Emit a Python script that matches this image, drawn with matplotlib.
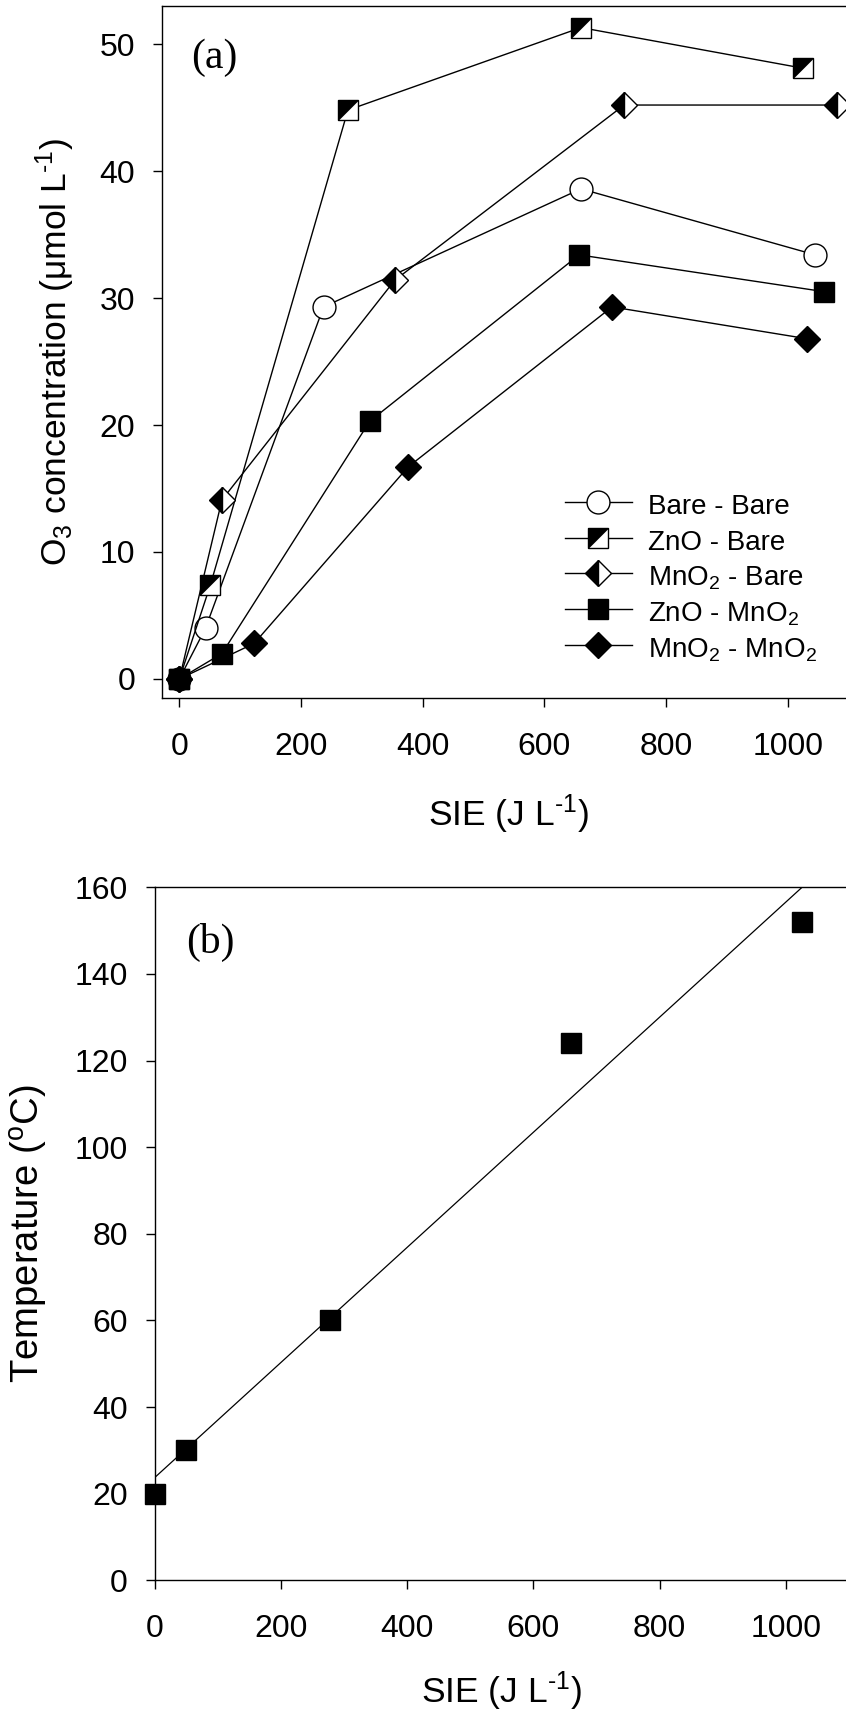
import numpy as np
import matplotlib
matplotlib.use("Agg")
import matplotlib.pyplot as plt
from matplotlib.legend_handler import HandlerTuple

plt.rcParams['font.family'] = ['Liberation Sans', 'DejaVu Sans']
plt.rcParams['mathtext.fontset'] = 'custom'
plt.rcParams['mathtext.rm'] = 'Liberation Sans'
plt.rcParams['mathtext.it'] = 'Liberation Sans:italic'
plt.rcParams['mathtext.bf'] = 'Liberation Sans:bold'

# ---------------- data (panel a) ----------------
bare_bare_x = [0, 43, 237, 660, 1045]
bare_bare_y = [0, 4.0, 29.3, 38.6, 33.4]
zno_bare_x = [0, 51, 277, 660, 1025]
zno_bare_y = [0, 7.4, 44.8, 51.3, 48.1]
mno2_bare_x = [0, 70, 354, 731, 1081]
mno2_bare_y = [0, 14.1, 31.4, 45.2, 45.2]
zno_mno2_x = [0, 70, 313, 657, 1060]
zno_mno2_y = [0, 2.0, 20.3, 33.4, 30.5]
mno2_mno2_x = [0, 123, 376, 711, 1031]
mno2_mno2_y = [0, 2.8, 16.7, 29.3, 26.8]
labels_a = ['Bare - Bare', 'ZnO - Bare', 'MnO$_2$ - Bare',
            'ZnO - MnO$_2$', 'MnO$_2$ - MnO$_2$']

# ---------------- data (panel b) ----------------
temp_x = [0, 50, 278, 660, 1025]
temp_y = [20, 30, 60, 124, 152]

x_ticks = [0, 200, 400, 600, 800, 1000]
ya_ticks = [0, 10, 20, 30, 40, 50]
yb_ticks = [0, 20, 40, 60, 80, 100, 120, 140, 160]

W, H = 846, 1717
fig = plt.figure(figsize=(W / 100, H / 100), dpi=100)

def axrect(l, r, t, b):
    return [l / W, 1 - b / H, (r - l) / W, (b - t) / H]

ax1 = fig.add_axes(axrect(161.7, 856, 6, 698))
ax2 = fig.add_axes(axrect(154.5, 849, 887.3, 1580.4))

TICK_FS = 23
lw = 1.0
mew = 1.0

common = dict(color='black', lw=lw, mec='black', mew=mew, clip_on=False)

h1, = ax1.plot(bare_bare_x, bare_bare_y, marker='o', ms=16.5, mfc='white', **common)
h2, = ax1.plot(zno_bare_x, zno_bare_y, marker='s', ms=14.5, mfc='white', **common)
tri = [(-1, -1), (-1, 1), (1, 1), (-1, -1)]
h2b, = ax1.plot(zno_bare_x, zno_bare_y, ls='none', marker=tri, ms=14.5,
                mfc='black', mec='black', mew=0.5, clip_on=False)
h3, = ax1.plot(mno2_bare_x, mno2_bare_y, marker='D', ms=13.7, mfc='black',
               fillstyle='left', markerfacecoloralt='white', **common)
h4, = ax1.plot(zno_mno2_x, zno_mno2_y, marker='s', ms=14.5, mfc='black', **common)
h5, = ax1.plot(mno2_mno2_x, mno2_mno2_y, marker='D', ms=13.7, mfc='black', **common)

ax1.set_xlim(-29, 1112)
ax1.set_ylim(-1.5, 53)
ax1.set_xticks(x_ticks)
ax1.set_yticks(ya_ticks)

leg_fs = 20
leg = ax1.legend([h1, (h2, h2b), h3, h4, h5], labels_a,
                 handler_map={tuple: HandlerTuple(ndivide=1)},
                 loc='upper left', bbox_to_anchor=(565 / W, 1 - 490 / H),
                 bbox_transform=fig.transFigure, frameon=False,
                 fontsize=leg_fs, borderpad=0, borderaxespad=0,
                 handlelength=2.4, handleheight=1.25, handletextpad=0.6,
                 labelspacing=0.2, numpoints=1)

ax1.text(0.043, 0.925, '(a)', transform=ax1.transAxes, fontsize=30,
         family='Liberation Serif', ha='left', va='center')

ax1.set_ylabel('O$_3$ concentration (μmol L$^{\\text{-}1}$)', fontsize=25.5)
ax1.set_xlabel('SIE (J L$^{\\text{-}1}$)', fontsize=25.5)
ax1.yaxis.set_label_coords(-0.122, 0.5)
ax1.xaxis.set_label_coords(0.5, -0.137)

# panel b
ax2.plot(temp_x, temp_y, ls='none', marker='s', ms=15, mfc='black', mec='black',
         clip_on=False, zorder=3)
coef = np.polyfit(temp_x, temp_y, 1)
xx = np.array([0, 1100])
ax2.plot(xx, np.polyval(coef, xx), color='black', lw=0.9)
ax2.set_xlim(0, 1100)
ax2.set_ylim(0, 160)
ax2.set_xticks(x_ticks)
ax2.set_yticks(yb_ticks)
ax2.text(0.045, 0.92, '(b)', transform=ax2.transAxes, fontsize=30,
         family='Liberation Serif', ha='left', va='center')
ax2.set_ylabel('Temperature ($^{\\rm o}$C)', fontsize=27.5)
ax2.set_xlabel('SIE (J L$^{\\text{-}1}$)', fontsize=25.5)
ax2.yaxis.set_label_coords(-0.150, 0.5)
ax2.xaxis.set_label_coords(0.5, -0.128)

for ax in (ax1, ax2):
    for s in ax.spines.values():
        s.set_linewidth(1.0)
    ax.tick_params(axis='both', which='both', direction='out', length=6.5,
                   width=1.0, labelsize=TICK_FS, top=False, right=False)
    ax.tick_params(axis='x', pad=18)
    ax.tick_params(axis='y', pad=12.7)

fig.savefig('out.png', dpi=100, facecolor='white')
